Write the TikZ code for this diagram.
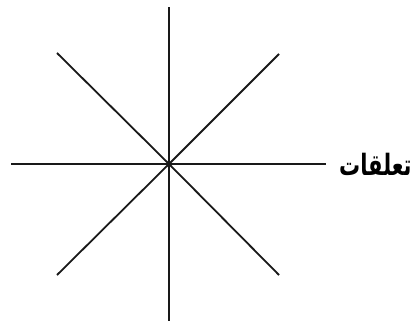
\documentclass[tikz,border=0pt]{standalone}
\usepackage{fontspec}
\TeXXeTstate=1
\newfontfamily\arabicfont[Script=Arabic]{DejaVu Sans}
\begin{document}
\begin{tikzpicture}[x=1pt,y=-1pt,
  ray/.style={draw=black!90,line width=1.8pt},
  lbl/.style={inner sep=0pt,font=\arabicfont\bfseries\fontsize{21}{25}\selectfont}]
\useasboundingbox (0,0) rectangle (420,323);
\coordinate (c) at (169,164);
\coordinate (n) at (169,7);
\coordinate (s) at (169,321);
\coordinate (w) at (11,164);
\coordinate (e) at (326,164);
\coordinate (nw) at (57,53);
\coordinate (ne) at (279,54);
\coordinate (sw) at (57,275);
\coordinate (se) at (279,275);
\foreach \p in {n,s,w,e,nw,ne,sw,se} \draw[ray] (c) -- (\p);
\node[lbl,anchor=west] (t) at (339,164) {\scalebox{1.0}[1.4]{\beginR تعلقات\endR}};
\end{tikzpicture}
\end{document}
